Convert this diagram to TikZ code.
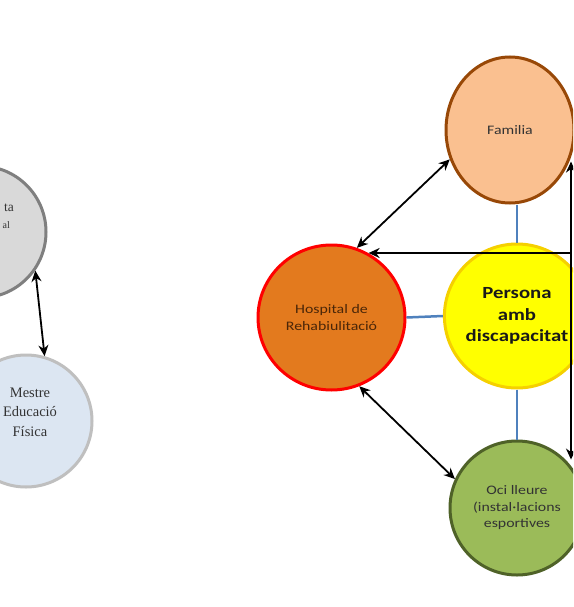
\documentclass[tikz,border=0pt]{standalone}
\usepackage{fontspec}
\setmainfont{Liberation Serif}
\newfontfamily\calw[FakeStretch=1.22]{Carlito}
\usetikzlibrary{shapes.geometric,arrows.meta}
\definecolor{grayfill}{HTML}{D9D9D9}
\definecolor{grayedge}{HTML}{7F7F7F}
\definecolor{mestrefill}{HTML}{DCE6F2}
\definecolor{mestreedge}{HTML}{BFBFBF}
\definecolor{famfill}{HTML}{FAC090}
\definecolor{famedge}{HTML}{984807}
\definecolor{hospfill}{HTML}{E37A1E}
\definecolor{hospedge}{HTML}{FF0000}
\definecolor{perfill}{HTML}{FFFF00}
\definecolor{peredge}{HTML}{F5D000}
\definecolor{ocifill}{HTML}{9BBB59}
\definecolor{ociedge}{HTML}{4F6228}
\definecolor{linkblue}{HTML}{4F81BD}
\definecolor{txtdark}{HTML}{333333}
\definecolor{hosptxt}{HTML}{4A2608}
\begin{document}
\begin{tikzpicture}[x=1pt,y=-1pt,
  bub/.style={ellipse, inner sep=0pt, line width=3pt, align=center},
  link/.style={draw=linkblue, line width=2.5pt},
  dbl/.style={line width=1.8pt, {Stealth[length=11pt,width=10pt]}-{Stealth[length=11pt,width=10pt]}},
  one/.style={line width=1.8pt, -{Stealth[length=11pt,width=10pt]}},
  small/.style={font=\calw\fontsize{13}{16.5}\selectfont, text=txtdark}]
\useasboundingbox (0,0) rectangle (573,607);
\clip (0,0) rectangle (573,607);
\fill[white] (0,0) rectangle (573,607);

% left part
\node[bub, draw=grayedge, fill=grayfill, minimum width=132pt, minimum height=132pt] (psi) at (-20,232) {};
\node[inner sep=0pt, anchor=east, font=\fontsize{13.5}{15}\selectfont, text=txtdark] (psit) at (14,208) {ta};
\node[inner sep=0pt, anchor=east, font=\fontsize{10}{12}\selectfont, text=txtdark] (psia) at (10,225) {al};
\node[bub, draw=mestreedge, fill=mestrefill, minimum width=132pt, minimum height=132pt] (mes) at (26,421) {};
\node[inner sep=0pt, align=center, font=\fontsize{14.5}{19.5}\selectfont, text=txtdark] (mest) at (30,412) {Mestre\\Educació\\Física};
\draw[dbl] (psi.-35) -- (mes.74);

% right part
\node[bub, draw=famedge, fill=famfill, minimum width=128pt, minimum height=146pt, small] (fam) at (510,130) {Familia};
\node[bub, draw=hospedge, fill=hospfill, minimum width=147pt, minimum height=145pt, small, text=hosptxt] (hosp) at (331.5,317.5) {Hospital de\\Rehabiulitació};
\node[bub, draw=peredge, fill=perfill, minimum width=144pt, minimum height=144pt,
      font=\calw\bfseries\fontsize{17}{21.5}\selectfont, text=black!90] (per) at (517,316) {Persona\\amb\\discapacitat};
\node[bub, draw=ociedge, fill=ocifill, minimum width=134pt, minimum height=134pt, small] (oci) at (517,508) {Oci lleure\\(instal·lacions\\esportives};

\draw[link] (per.north) -- (per.north |- fam.south);
\draw[link] (hosp.east) -- (per.west);
\draw[link] (per.south) -- (oci.north);

\draw[dbl] (fam.206) -- (hosp.70);
\draw[dbl] (hosp.-68) -- (oci.155);
\coordinate (jn) at (571,253);
\draw[one] (jn) -- (jn -| hosp.60);
\draw[dbl] (jn |- fam.-28) -- (jn |- oci.45);
\end{tikzpicture}
\end{document}
